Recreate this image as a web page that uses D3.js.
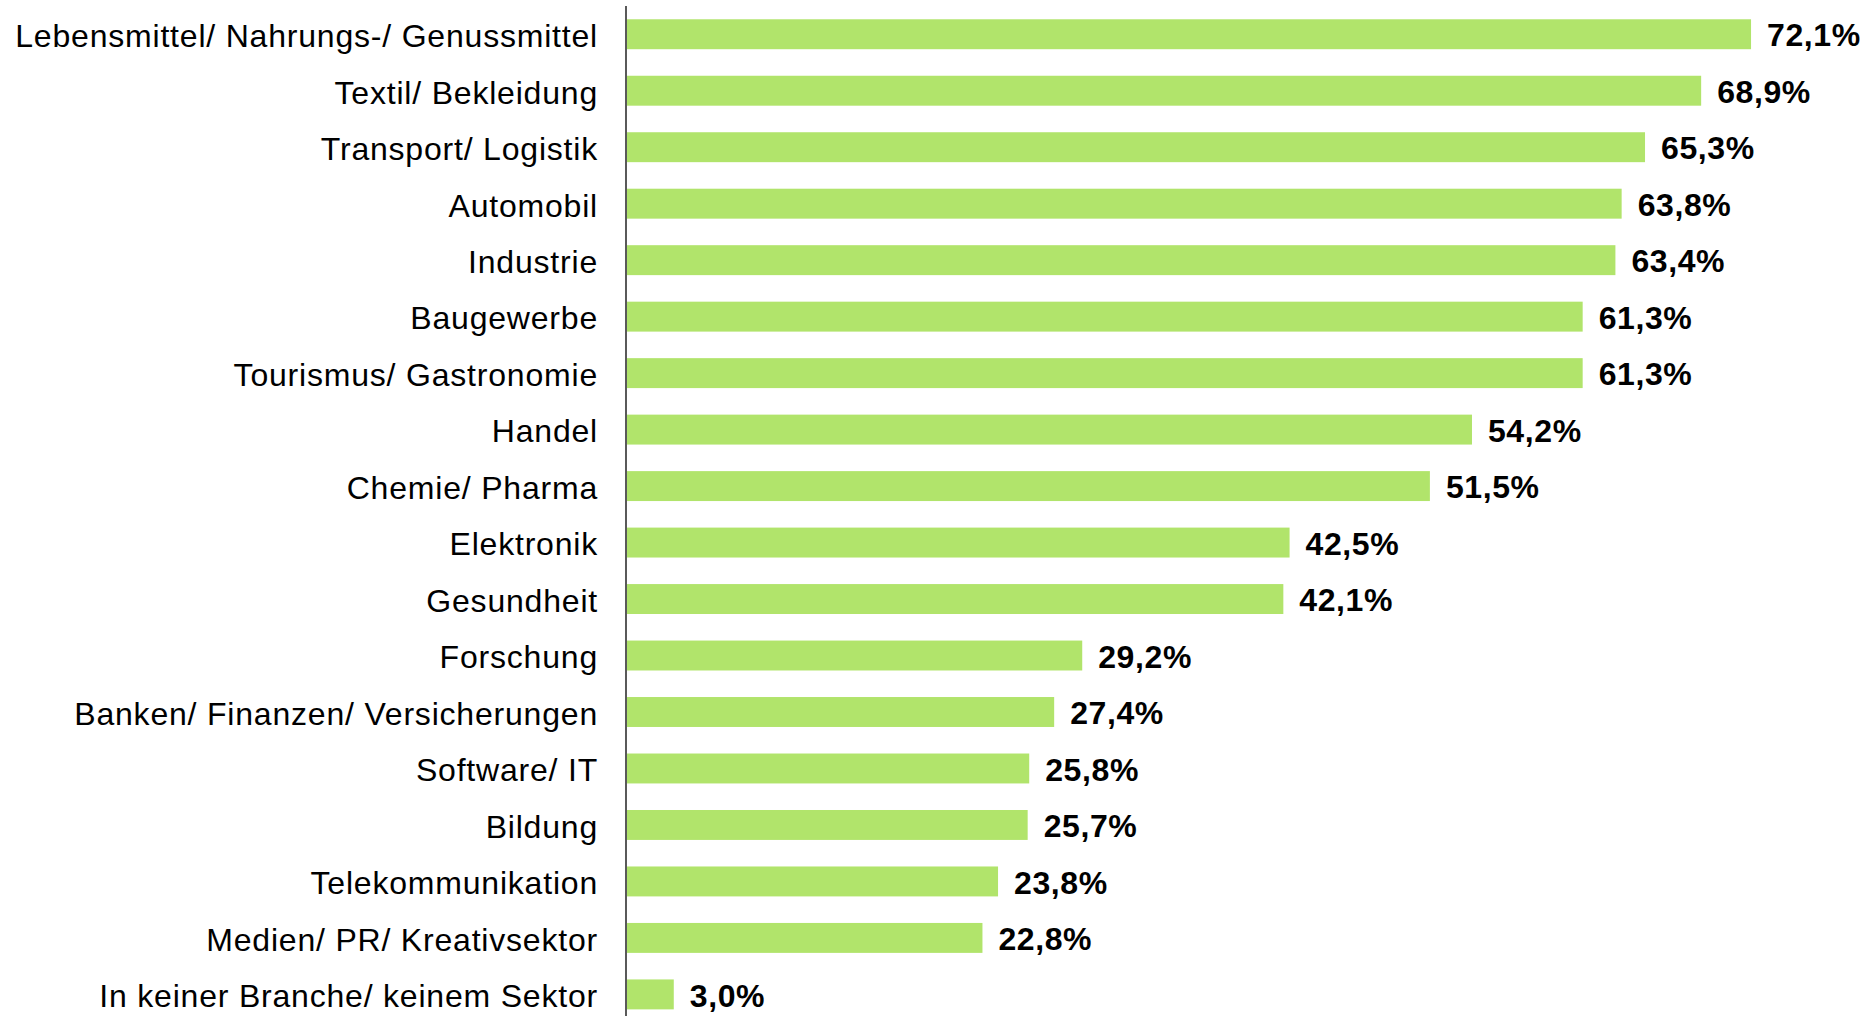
<!DOCTYPE html>
<html>
<head>
<meta charset="utf-8">
<script src="https://cdn.jsdelivr.net/npm/d3@7"></script>
<style>
  body { margin: 0; background: #fff; }
  svg { display: block; }
</style>
</head>
<body>
<svg id="chart" width="1870" height="1016"></svg>
<script>
var branchen = [
    "Lebensmittel/ Nahrungs-/ Genussmittel",
    "Textil/ Bekleidung",
    "Transport/ Logistik",
    "Automobil",
    "Industrie",
    "Baugewerbe",
    "Tourismus/ Gastronomie",
    "Handel",
    "Chemie/ Pharma",
    "Elektronik",
    "Gesundheit",
    "Forschung",
    "Banken/ Finanzen/ Versicherungen",
    "Software/ IT",
    "Bildung",
    "Telekommunikation",
    "Medien/ PR/ Kreativsektor",
    "In keiner Branche/ keinem Sektor"
]

var anteile = [72.1, 68.9, 65.3, 63.8, 63.4, 61.3, 61.3, 54.2, 51.5, 42.5, 42.1, 29.2, 27.4, 25.8, 25.7, 23.8, 22.8, 3.0]

var barColor = "#b1e46b"

var svg = d3.select("svg#chart")
var left = 627

var data = branchen.map(function(name, i) {
    return { name: name, value: anteile[i] }
})

var x = d3.scaleLinear().domain([0, 100]).range([left, left + 1559])

var y = d3.scaleBand()
    .domain(branchen)
    .range([6, 6 + 56.48 * branchen.length])
    .paddingInner(0.47)
    .paddingOuter(0.235)

// bars
svg.append("g").selectAll("rect")
    .data(data)
    .enter()
    .append("rect")
    .attr("x", x(0))
    .attr("y", function(d) { return y(d.name) })
    .attr("width", function(d) { return x(d.value) - x(0) })
    .attr("height", y.bandwidth())
    .attr("fill", barColor)

// category axis
var axis = svg.append("g")
    .attr("transform", "translate(" + (left - 1) + ",0)")
    .call(d3.axisLeft(y).tickSize(0).tickPadding(28))

axis.select(".domain")
    .attr("d", "M0,6V1016")
    .attr("stroke", "#000")
    .attr("stroke-width", 1.3)

axis.selectAll("text")
    .attr("fill", "#000")
    .attr("dy", "0.37em")
    .attr("y", 1)
    .style("font-family", "'Liberation Sans', Arial, sans-serif")
    .style("font-size", "32px")
    .style("letter-spacing", "0.8px")

// value labels
svg.append("g").selectAll("text")
    .data(data)
    .enter()
    .append("text")
    .attr("x", function(d) { return x(d.value) + 16 })
    .attr("y", function(d) { return y(d.name) + y.bandwidth() / 2 })
    .attr("dy", "0.38em")
    .attr("fill", "#000")
    .style("font-family", "'Liberation Sans', Arial, sans-serif")
    .style("font-size", "32px")
    .style("font-weight", "bold")
    .style("letter-spacing", "0.6px")
    .text(function(d) { return d.value.toFixed(1).replace(".", ",") + "%" })
</script>
</body>
</html>
